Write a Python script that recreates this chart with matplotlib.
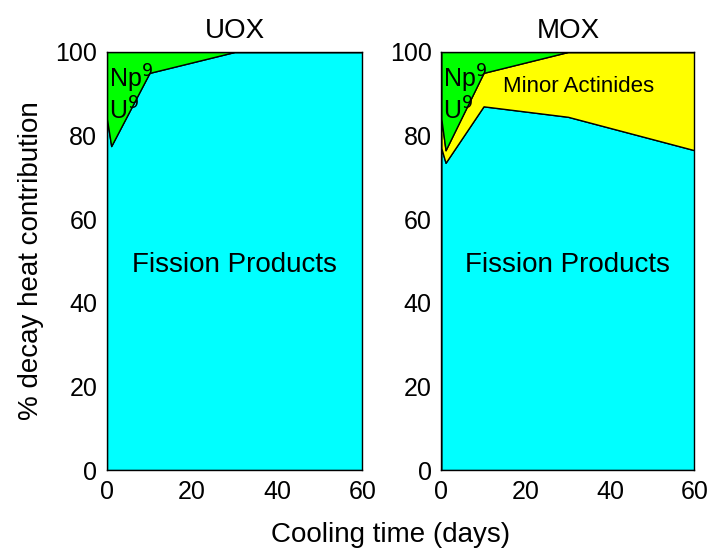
import matplotlib
matplotlib.use("Agg")
import matplotlib.pyplot as plt

plt.rcParams['font.family'] = ['Liberation Sans', 'DejaVu Sans']

# cooling time (days) and cumulative % of decay heat
t = [0, 1, 10, 30, 60]
uox_fp = [84, 77.5, 95, 100, 100]
mox_fp = [77, 73.5, 87, 84.5, 76.5]
mox_fp_ma = [84, 76.5, 95, 100, 100]
top = [100, 100, 100, 100, 100]

cyan = '#00ffff'
green = '#00ff00'
yellow = '#ffff00'

fig = plt.figure(figsize=(7.13, 5.53), dpi=100)
ax1 = fig.add_axes([0.150, 0.150, 0.358, 0.756])
ax2 = fig.add_axes([0.619, 0.150, 0.355, 0.756])

# UOX
ax1.fill_between(t, 0, uox_fp, facecolor=cyan, edgecolor='black', lw=1)
ax1.fill_between(t, uox_fp, top, facecolor=green, edgecolor='black', lw=1)
ax1.set_title('UOX', fontsize=20, pad=10)
ax1.text(30, 49, 'Fission Products', fontsize=20, ha='center', va='center')

# MOX
ax2.fill_between(t, 0, mox_fp, facecolor=cyan, edgecolor='black', lw=1)
ax2.fill_between(t, mox_fp, mox_fp_ma, facecolor=yellow, edgecolor='black', lw=1)
ax2.fill_between(t, mox_fp_ma, top, facecolor=green, edgecolor='black', lw=1)
ax2.set_title('MOX', fontsize=20, pad=10)
ax2.text(30, 49, 'Fission Products', fontsize=20, ha='center', va='center')
ax2.text(32.5, 91.8, 'Minor Actinides', fontsize=16, ha='center', va='center')

for ax in (ax1, ax2):
    ax.set_xlim(0, 60)
    ax.set_ylim(0, 100)
    ax.set_xticks([0, 20, 40, 60])
    ax.set_yticks([0, 20, 40, 60, 80, 100])
    ax.tick_params(length=0, labelsize=18, pad=7)
    for s in ax.spines.values():
        s.set_linewidth(1)
    ax.text(0.5, 93.5, r'Np$^{9}$', fontsize=18, ha='left', va='center')
    ax.text(0.5, 86, r'U$^{9}$', fontsize=18, ha='left', va='center')

ax1.set_ylabel('% decay heat contribution', fontsize=20, labelpad=8)
fig.text(0.548, 0.032, 'Cooling time (days)', fontsize=20, ha='center', va='center')

fig.savefig('out.png', dpi=100)
